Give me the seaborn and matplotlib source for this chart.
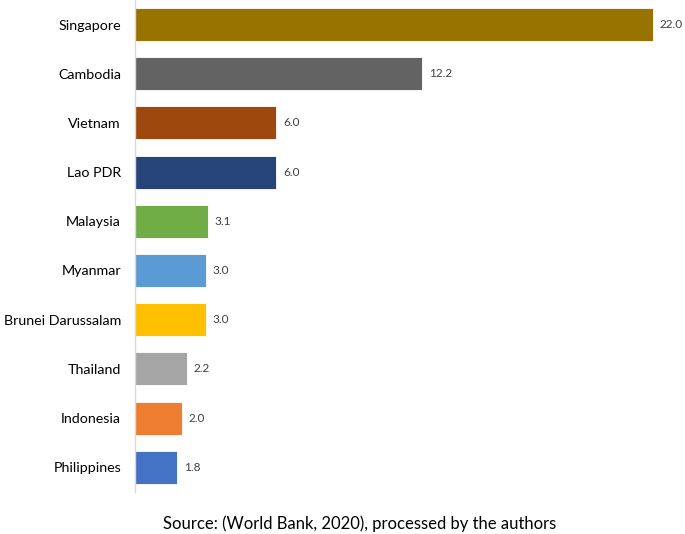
import matplotlib
matplotlib.use("Agg")
import matplotlib.pyplot as plt
import seaborn as sns
import pandas as pd

countries = ["Singapore", "Cambodia", "Vietnam", "Lao PDR", "Malaysia", "Myanmar",
             "Brunei Darussalam", "Thailand", "Indonesia", "Philippines"]
values = [22.0, 12.2, 6.0, 6.0, 3.1, 3.0, 3.0, 2.2, 2.0, 1.8]
colors = ["#997300", "#636363", "#9E480E", "#264478", "#70AD47", "#5B9BD5",
          "#FFC000", "#A5A5A5", "#ED7D31", "#4472C4"]

df = pd.DataFrame({"country": countries, "value": values})

sns.set_style("white")
plt.rcParams["font.family"] = ["Lato", "DejaVu Sans"]

fig = plt.figure(figsize=(6.85, 5.34), dpi=100)
ax = fig.add_axes([0.197, 0.079, 0.803, 0.921])

sns.barplot(data=df, x="value", y="country", hue="country",
            palette=dict(zip(countries, colors)), legend=False, saturation=1,
            width=0.67, edgecolor="white", linewidth=0.6, ax=ax)

for i, v in enumerate(values):
    ax.annotate(f"{v:.1f}", (v, i), xytext=(5, 0), textcoords="offset points",
                va="center", ha="left", fontsize=8.5, color="#404040")

ax.set_xlim(0, 23.36)
ax.set_ylim(9.5, -0.5)
ax.set_xlabel("")
ax.set_ylabel("")
ax.set_xticks([])
ax.tick_params(axis="y", length=0, pad=10, labelsize=10.3, labelcolor="black")
for s in ["top", "right", "bottom"]:
    ax.spines[s].set_visible(False)
ax.spines["left"].set_color("#d9d9d9")
ax.spines["left"].set_linewidth(1)

fig.text(0.525, 0.019, "Source: (World Bank, 2020), processed by the authors",
         ha="center", va="center", fontsize=12, color="black")

fig.savefig("out.png", dpi=100)
